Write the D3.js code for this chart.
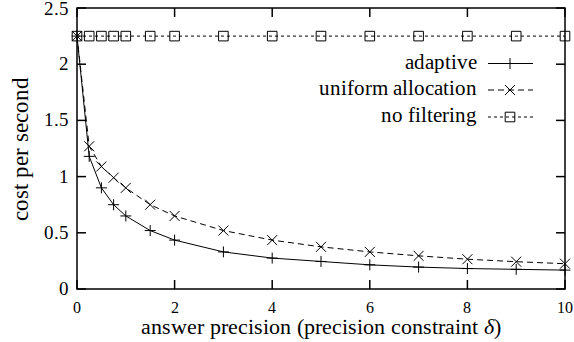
<!DOCTYPE html>
<html><head><meta charset="utf-8">
<script src="https://cdn.jsdelivr.net/npm/d3@7"></script>
<style>
@font-face { font-family: "PlotSerif"; font-style: normal; src: local("Liberation Serif"), local("LiberationSerif"), local("LiberationSerif-Regular"), local("Tinos"), local("Tinos-Regular"); }
@font-face { font-family: "PlotSerif"; font-style: italic; src: local("Liberation Serif Italic"), local("LiberationSerif-Italic"), local("Tinos Italic"), local("Tinos-Italic"); }
</style>
</head><body style="margin:0">
<script>
const xValues = [0, 0.25, 0.5, 0.75, 1, 1.5, 2, 3, 4, 5, 6, 7, 8, 9, 10];
const adaptive = [2.25, 1.18, 0.90, 0.75, 0.65, 0.52, 0.435, 0.33, 0.275, 0.245, 0.215, 0.195, 0.182, 0.175, 0.168];
const uniformAllocation = [2.25, 1.27, 1.09, 0.99, 0.90, 0.75, 0.65, 0.52, 0.435, 0.375, 0.33, 0.295, 0.265, 0.243, 0.225];
const noFiltering = [2.25, 2.25, 2.25, 2.25, 2.25, 2.25, 2.25, 2.25, 2.25, 2.25, 2.25, 2.25, 2.25, 2.25, 2.25];
const xTicks = [0, 2, 4, 6, 8, 10];
const yTicks = [0, 0.5, 1, 1.5, 2, 2.5];
const yTickLabels = ["0", "0.5", "1", "1.5", "2", "2.5"];
const seriesNames = ["adaptive", "uniform allocation", "no filtering"];

const FONT = '"PlotSerif", "Liberation Serif", Tinos, Times';
const W = 574, H = 342;
const L = 77, R = 565, T = 8, B = 289;
const svg = d3.select("body").append("svg").attr("width", W).attr("height", H).style("display", "block")
  .style("font-family", FONT);
const x = d3.scaleLinear().domain([0, 10]).range([L, R]);
const y = d3.scaleLinear().domain([0, 2.5]).range([B, T]);

function txt(parent) {
  return parent.append("text").style("font-family", FONT);
}

// ticks (inward, mirrored)
const tl = 9;
const g = svg.append("g").attr("stroke", "#000").attr("stroke-width", 1.5);
xTicks.forEach(t => {
  g.append("line").attr("x1", x(t)).attr("x2", x(t)).attr("y1", B).attr("y2", B - tl);
  g.append("line").attr("x1", x(t)).attr("x2", x(t)).attr("y1", T).attr("y2", T + tl);
});
yTicks.forEach(t => {
  g.append("line").attr("x1", L).attr("x2", L + tl).attr("y1", y(t)).attr("y2", y(t));
  g.append("line").attr("x1", R).attr("x2", R - tl).attr("y1", y(t)).attr("y2", y(t));
});

// tick labels
xTicks.forEach(t => {
  txt(svg).attr("x", x(t)).attr("y", 312.5).attr("text-anchor", "middle").attr("font-size", 16).text(t);
});
yTicks.forEach((t, i) => {
  txt(svg).attr("x", 69).attr("y", Math.max(y(t) + 6, 15)).attr("text-anchor", "end").attr("font-size", 19).text(yTickLabels[i]);
});

// axis titles
const xt = txt(svg).attr("x", (L + R) / 2).attr("y", 334).attr("text-anchor", "middle").attr("font-size", 22);
xt.append("tspan").text("answer precision (precision constraint ");
xt.append("tspan").attr("font-style", "italic").text("δ");
xt.append("tspan").text(")");
txt(svg).attr("transform", "translate(28,149) rotate(-90)").attr("text-anchor", "middle")
  .attr("font-size", 22.5).text("cost per second");

// markers
function plusPath(s){return `M${-s},0H${s}M0,${-s}V${s}`;}
function crossPath(s){return `M${-s},${-s}L${s},${s}M${-s},${s}L${s},${-s}`;}
function squarePath(s){return `M${-s},${-s}H${s}V${s}H${-s}Z`;}
const markers = [p => plusPath(5.5), p => crossPath(5), p => squarePath(4.8)];
const dashes = [null, "6,4", "3,3"];
const data = [adaptive, uniformAllocation, noFiltering];

const line = d3.line().x((d, i) => x(xValues[i])).y(d => y(d));
data.forEach((vals, k) => {
  svg.append("path").attr("d", line(vals)).attr("fill", "none").attr("stroke", "#000")
    .attr("stroke-width", 1).attr("stroke-dasharray", dashes[k]);
  svg.append("g").selectAll("path").data(vals).join("path")
    .attr("transform", (d, i) => `translate(${x(xValues[i])},${y(d)})`)
    .attr("d", markers[k]).attr("fill", "none").attr("stroke", "#000").attr("stroke-width", 1);
});

// legend
const legY = [63.5, 90, 117];
seriesNames.forEach((n, k) => {
  txt(svg).attr("x", 477).attr("y", legY[k] + 5).attr("text-anchor", "end").attr("font-size", 20.5).text(n);
  svg.append("line").attr("x1", 488).attr("x2", 533).attr("y1", legY[k]).attr("y2", legY[k])
    .attr("stroke", "#000").attr("stroke-width", 1).attr("stroke-dasharray", dashes[k]);
  svg.append("path").attr("transform", `translate(510,${legY[k]})`).attr("d", markers[k]())
    .attr("fill", "none").attr("stroke", "#000").attr("stroke-width", 1);
});

// frame
svg.append("rect").attr("x", L).attr("y", T).attr("width", R - L).attr("height", B - T)
  .attr("fill", "none").attr("stroke", "#000").attr("stroke-width", 1.5);
</script>
</body></html>
